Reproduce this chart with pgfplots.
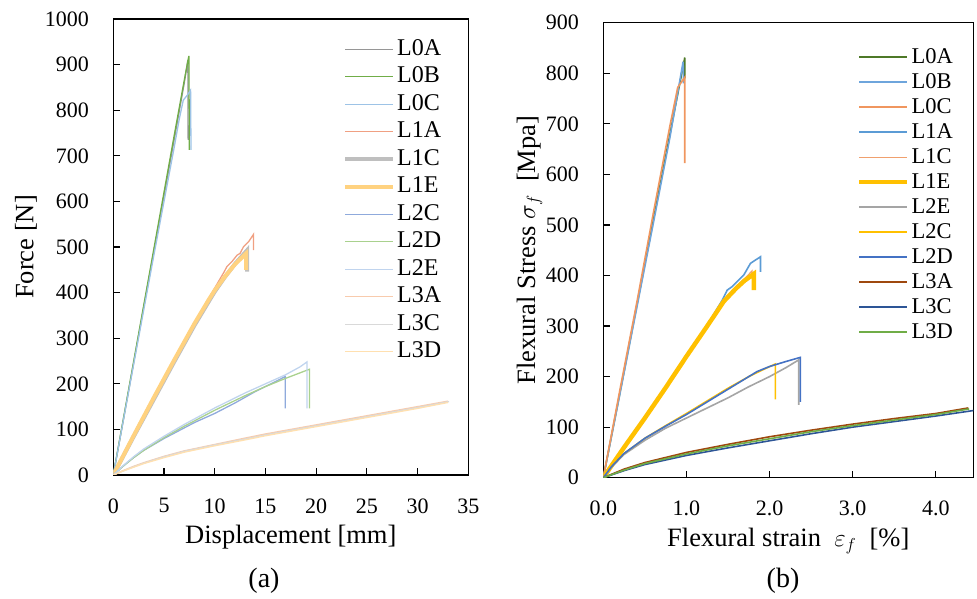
\documentclass[border=0pt]{standalone}
\usepackage{fontspec}
\setmainfont{Liberation Serif}
\usepackage{pgfplots}
\pgfplotsset{compat=1.18}

% left colours
\definecolor{aL0A}{RGB}{150,150,150}
\definecolor{aL0B}{RGB}{112,173,71}
\definecolor{aL0C}{RGB}{157,195,230}
\definecolor{aL1A}{RGB}{240,160,130}
\definecolor{aL1C}{RGB}{191,191,191}
\definecolor{aL1E}{RGB}{255,210,128}
\definecolor{aL2C}{RGB}{143,170,220}
\definecolor{aL2D}{RGB}{169,209,142}
\definecolor{aL2E}{RGB}{192,212,238}
\definecolor{aL3A}{RGB}{248,203,173}
\definecolor{aL3C}{RGB}{217,217,217}
\definecolor{aL3D}{RGB}{255,224,176}
% right colours
\definecolor{bL0A}{RGB}{78,121,40}
\definecolor{bL0B}{RGB}{110,165,220}
\definecolor{bL0C}{RGB}{240,150,95}
\definecolor{bL1A}{RGB}{91,155,213}
\definecolor{bL1C}{RGB}{240,160,110}
\definecolor{bL1E}{RGB}{255,192,0}
\definecolor{bL2E}{RGB}{165,165,165}
\definecolor{bL2C}{RGB}{255,192,0}
\definecolor{bL2D}{RGB}{68,114,196}
\definecolor{bL3A}{RGB}{158,72,14}
\definecolor{bL3C}{RGB}{45,85,150}
\definecolor{bL3D}{RGB}{112,173,71}

\pgfplotsset{
  myaxis/.style={
    scale only axis,
    axis line style={line width=1.6pt},
    tick style={line width=1.2pt, black},
    major tick length=7pt,
    tick align=inside,
    tick pos=left,
    /pgf/number format/assume math mode=true,
    /pgf/number format/1000 sep={},
    tick label style={font=\fontsize{22}{26}\selectfont},
    label style={font=\fontsize{26.5}{30}\selectfont},
    legend cell align=left,
    legend image code/.code={\draw[##1] (0pt,0pt) -- (48pt,0pt);},
  }
}

\begin{document}
\begin{tikzpicture}
\useasboundingbox (0,0) rectangle (977pt,599pt);

%================ (a) =================
\begin{axis}[myaxis,
  at={(113.3pt,124pt)}, anchor=south west,
  width=355pt, height=456pt,
  xmin=0, xmax=35, ymin=0, ymax=1000,
  xtick={0,5,...,35}, ytick={0,100,...,1000},
  xticklabel style={yshift=-20pt},
  yticklabel style={xshift=-21pt},
  xlabel={Displacement [mm]},
  xlabel style={at={(axis description cs:0.5,0)}, anchor=base, yshift=-69pt},
  ylabel={Force [N]},
  ylabel style={at={(axis description cs:-0.2254,0.5)}, anchor=base, rotate=0},
  legend style={at={(axis cs:22.65,962.7)}, anchor=north west, draw=none, fill=none,
    inner sep=0pt, row sep=1.5pt,
    font=\fontsize{24}{28}\selectfont,
    nodes={inner sep=2pt, text height=17pt, text depth=5pt}},
]
\addplot[aL0A, line width=1.3pt] coordinates {(0,0)(1,122)(2,245)(3,368)(4,490)(5,612)(6,735)(7,860)(7.35,910)(7.38,735)};
\addlegendentry{L0A}
\addplot[aL0B, line width=1.3pt] coordinates {(0,0)(1,124)(2,248)(3,372)(4,496)(5,620)(6,744)(7,866)(7.45,919)(7.5,713)};
\addlegendentry{L0B}
\addplot[aL0C, line width=1.3pt] coordinates {(0,0)(1,121)(2,242)(3,362)(4,482)(5,600)(6,718)(6.5,780)(6.9,822)(7.3,833)(7.62,844)(7.66,713)};
\addlegendentry{L0C}
\addplot[aL1A, line width=1.3pt] coordinates {(0,0)(2,88)(4,172)(6,254)(8,334)(10,410)(10.94,446)(11.2,457)(11.7,468)(12.2,482)(12.5,486)(12.85,501)(13.35,512)(13.83,528)(13.83,493)};
\addlegendentry{L1A}
\addplot[aL1C, line width=4pt] coordinates {(0,0)(2,84)(4,166)(6,248)(8,328)(9.4,380)(10,402)(11,434)(12,463)(13.2,493)(13.2,446)};
\addlegendentry{L1C}
\addplot[aL1E, line width=4pt] coordinates {(0,0)(2,86)(4,170)(6,252)(8,332)(9.4,384)(10,405)(11,435)(12,462)(13.1,486)(13.1,450)};
\addlegendentry{L1E}
\addplot[aL2C, line width=1.3pt] coordinates {(0,0)(1,20)(2,38)(3,54)(5,80)(8,115)(10,135)(12,158)(14,183)(16,205)(16.96,216)(16.96,146)};
\addlegendentry{L2C}
\addplot[aL2D, line width=1.3pt] coordinates {(0,0)(1,20)(2,38)(3,54)(5,82)(7,107)(10,142)(13,174)(15,194)(17,212)(19.35,232)(19.35,146)};
\addlegendentry{L2D}
\addplot[aL2E, line width=1.3pt] coordinates {(0,0)(1,21)(2,40)(3,57)(5,85)(7,111)(10,147)(13,180)(15,200)(17,220)(18.4,237)(19.1,248)(19.1,146)};
\addlegendentry{L2E}
\addplot[aL3A, line width=1.3pt] coordinates {(0,0)(1,10)(2,19)(3,27)(5,41)(7,53)(10,67)(13,81)(15,90)(18,102)(20,110)(23,122)(25,130)(28,142)(30,150)(33,162)};
\addlegendentry{L3A}
\addplot[aL3C, line width=1.3pt] coordinates {(0,0)(1,9)(2,18)(3,26)(5,40)(7,52)(10,66)(13,79)(15,88)(18,100)(20,108)(23,120)(25,128)(28,140)(30,148)(33.1,161)};
\addlegendentry{L3C}
\addplot[aL3D, line width=1.3pt] coordinates {(0,0)(1,9)(2,17)(3,25)(5,38)(7,50)(10,64)(13,77)(15,86)(18,98)(20,106)(23,118)(25,126)(28,138)(30,146)(33,159)};
\addlegendentry{L3D}
\end{axis}

%================ (b) =================
\begin{axis}[myaxis,
  at={(603.3pt,121.3pt)}, anchor=south west,
  width=370pt, height=455pt,
  xmin=0, xmax=4.45, ymin=0, ymax=900,
  xtick={0,1,...,4}, ytick={0,100,...,900},
  xticklabel style={yshift=-20pt, /pgf/number format/.cd, fixed, fixed zerofill, precision=1},
  yticklabel style={xshift=-21pt},
  xlabel={Flexural strain\ \ $\varepsilon_f$\ \ [\%]},
  xlabel style={at={(axis description cs:0.5,0)}, anchor=base, yshift=-69pt},
  ylabel={Flexural Stress $\sigma_f$\ \ [Mpa]},
  ylabel style={at={(axis description cs:-0.184,0.5)}, anchor=base, rotate=0},
  legend style={at={(axis cs:3.05,856)}, anchor=north west, draw=none, fill=none,
    inner sep=0pt, row sep=1pt,
    font=\fontsize{22.5}{26}\selectfont,
    nodes={inner sep=2pt, text height=16pt, text depth=4pt}},
]
\addplot[bL0A, line width=1.6pt] coordinates {(0,0)(0.2,168)(0.4,338)(0.6,508)(0.8,678)(0.98,831)(0.98,790)};
\addlegendentry{L0A}
\addplot[bL0B, line width=1.6pt] coordinates {(0,0)(0.2,166)(0.4,334)(0.6,502)(0.8,672)(0.96,823)(0.965,780)};
\addlegendentry{L0B}
\addplot[bL0C, line width=1.6pt] coordinates {(0,0)(0.2,174)(0.408,351)(0.6,522)(0.8,695)(0.895,772)(0.98,792)(0.98,622)};
\addlegendentry{L0C}
\addplot[bL1A, line width=1.6pt] coordinates {(0,0)(0.25,60)(0.5,120)(0.75,180)(1.0,242)(1.25,302)(1.43,351)(1.49,371)(1.55,378)(1.61,388)(1.69,401)(1.77,424)(1.89,437)(1.89,407)};
\addlegendentry{L1A}
\addplot[bL1C, line width=1.2pt] coordinates {(0,0)(0.25,60)(0.5,119)(0.75,179)(1.0,241)(1.25,301)(1.45,350)(1.6,378)(1.7,394)(1.79,409)(1.79,395)};
\addlegendentry{L1C}
\addplot[bL1E, line width=4.5pt] coordinates {(0,0)(0.25,60)(0.5,118)(0.75,178)(1.0,240)(1.25,300)(1.45,349)(1.6,375)(1.7,390)(1.81,403)(1.81,371)};
\addlegendentry{L1E}
\addplot[bL2E, line width=1.6pt] coordinates {(0,0)(0.1,21)(0.25,46)(0.5,74)(0.75,98)(1.0,118)(1.25,138)(1.5,158)(1.75,180)(2.0,200)(2.2,218)(2.35,233)(2.35,144)};
\addlegendentry{L2E}
\addplot[bL2C, line width=1.6pt] coordinates {(0,0)(0.1,22)(0.25,48)(0.5,78)(0.75,103)(1.0,127)(1.25,152)(1.5,177)(1.75,200)(1.9,212)(2.07,225)(2.07,155)};
\addlegendentry{L2C}
\addplot[bL2D, line width=1.6pt] coordinates {(0,0)(0.1,22)(0.25,48)(0.5,78)(0.75,102)(1.0,125)(1.25,150)(1.5,175)(1.75,200)(1.85,210)(2.0,220)(2.2,230)(2.37,238)(2.37,150)};
\addlegendentry{L2D}
\addplot[bL3A, line width=1.6pt] coordinates {(0,0)(0.25,17)(0.5,30)(1.0,50)(1.5,66)(2.0,81)(2.5,94)(3.0,106)(3.5,117)(4.0,127)(4.39,138)};
\addlegendentry{L3A}
\addplot[bL3C, line width=1.6pt] coordinates {(0,0)(0.25,14)(0.5,26)(1.0,44)(1.5,59)(2.0,73)(2.5,87)(3.0,100)(3.5,111)(4.0,122)(4.5,134)};
\addlegendentry{L3C}
\addplot[bL3D, line width=1.6pt] coordinates {(0,0)(0.25,15)(0.5,28)(1.0,47)(1.5,63)(2.0,77)(2.5,91)(3.0,103)(3.5,114)(4.0,125)(4.4,136)};
\addlegendentry{L3D}
\end{axis}

\node[anchor=base, font=\fontsize{28}{32}\selectfont, inner sep=0] at (264pt,11pt) {(a)};
\node[anchor=base, font=\fontsize{28}{32}\selectfont, inner sep=0] at (783pt,11pt) {(b)};
\end{tikzpicture}
\end{document}
